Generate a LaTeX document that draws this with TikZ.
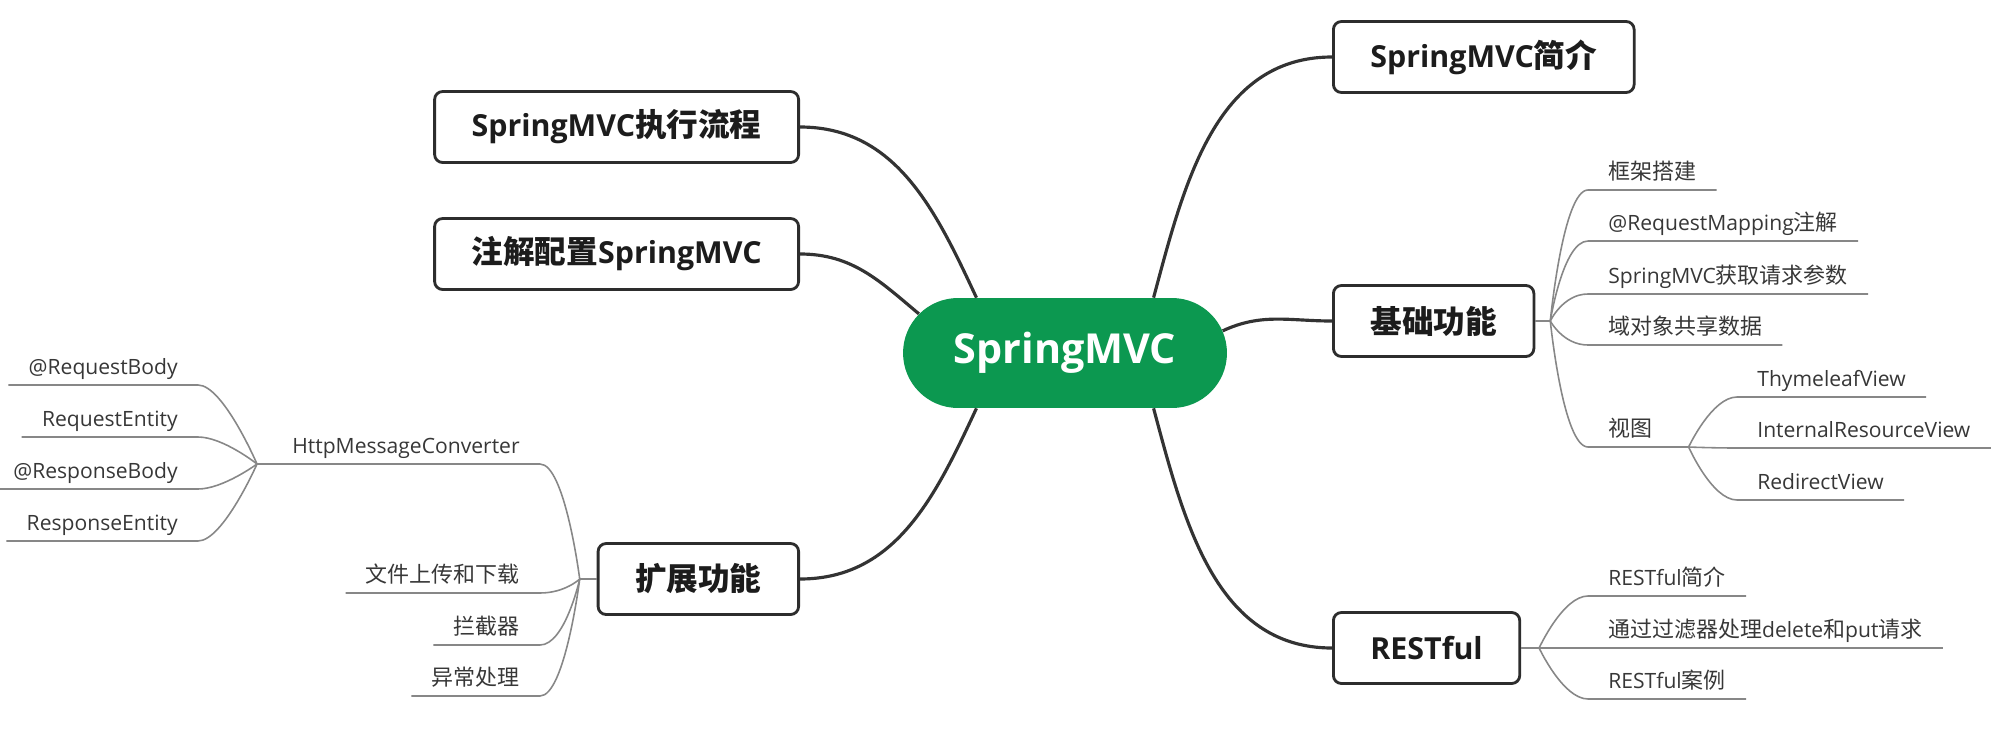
\documentclass[tikz,border=0pt]{standalone}
\usepackage{fontspec}
\setmainfont{Open Sans}[Scale=0.96]
\newfontfamily\cjk{Noto Sans CJK SC}
\usetikzlibrary{positioning,shapes.misc}

\definecolor{mvcgreen}{RGB}{12,152,80}
\definecolor{limbgray}{RGB}{51,51,51}
\definecolor{boxgray}{RGB}{45,45,45}
\definecolor{twiggray}{RGB}{135,135,135}
\definecolor{textdark}{RGB}{28,28,28}
\definecolor{leaftext}{RGB}{55,55,55}

\begin{document}
\begin{tikzpicture}[
  x=0.02cm, y=0.02cm,
  hub/.style={rounded rectangle, fill=mvcgreen, text=white, inner xsep=0pt, minimum width=6.48cm, minimum height=2.2cm, font=\fontsize{24.5}{28}\selectfont\bfseries},
  topic/.style={draw=boxgray, line width=1.6pt, rounded corners=0.16cm, fill=white, inner xsep=0.74cm, minimum height=1.42cm, text=textdark, font=\fontsize{18}{22}\selectfont\bfseries},
  leaf/.style={inner xsep=0.4cm, inner ysep=0.12cm, text height=0.32cm, text depth=0.08cm, text=leaftext, font=\fontsize{12.5}{15}\selectfont},
  limb/.style={draw=limbgray, line width=1.8pt},
  twig/.style={draw=twiggray, line width=0.9pt},
  sproutR/.style={to path={.. controls (\tikztostart) and ([xshift=-0.5cm]\tikztotarget) .. (\tikztotarget)}},
  sproutL/.style={to path={.. controls (\tikztostart) and ([xshift=0.5cm]\tikztotarget) .. (\tikztotarget)}}
]
\useasboundingbox (0,0) rectangle (2004,-734);

% centre and main topics
\node[hub] (root) at (1065,-353) {SpringMVC};

\node[topic, anchor=east] (flow) at (800,-127) {SpringMVC{\cjk 执行流程}};
\node[topic, anchor=east] (anno) at (800,-254) {{\cjk 注解配置}SpringMVC};
\node[topic, anchor=east] (ext) at (800,-579) {{\cjk 扩展功能}};
\node[topic, anchor=west] (intro) at (1332,-57) {SpringMVC{\cjk 简介}};
\node[topic, anchor=west] (basic) at (1332,-321) {{\cjk 基础功能}};
\node[topic, anchor=west] (rest) at (1332,-648) {RESTful};

\draw[limb] (flow.east) to[out=0, in=115] (root.148);
\draw[limb] (anno.east) to[out=0, in=140] (root.165);
\draw[limb] (ext.east) to[out=0, in=-115] (root.212);
\draw[limb] (root.32) to[out=75, in=180] (intro.west);
\draw[limb] (root.8) to[out=25, in=180] (basic.west);
\draw[limb] (root.328) to[out=-75, in=180] (rest.west);

% basic
\coordinate[right=0.3cm of basic.east] (basicfork);
\node[leaf, anchor=south west] (frame) at (1588,-190) {{\cjk 框架搭建}};
\node[leaf, anchor=south west] (mapping) at (1588,-241) {@RequestMapping{\cjk 注解}};
\node[leaf, anchor=south west] (param) at (1588,-294) {SpringMVC{\cjk 获取请求参数}};
\node[leaf, anchor=south west] (scope) at (1588,-345) {{\cjk 域对象共享数据}};
\node[leaf, anchor=south west] (view) at (1588,-447) {{\cjk 视图}};
\draw[twig] (basic.east) -- (basicfork);
\draw[twig] (basicfork) to[sproutR] (frame.south west) -- (frame.south east);
\draw[twig] (basicfork) to[sproutR] (mapping.south west) -- (mapping.south east);
\draw[twig] (basicfork) to[sproutR] (param.south west) -- (param.south east);
\draw[twig] (basicfork) to[sproutR] (scope.south west) -- (scope.south east);

\coordinate[right=0.32cm of view.south east] (viewfork);
\node[leaf, anchor=south west] (thyme) at (1737,-397) {ThymeleafView};
\node[leaf, anchor=south west] (internal) at (1737,-448) {InternalResourceView};
\node[leaf, anchor=south west] (redirect) at (1737,-500) {RedirectView};
\draw[twig] (basicfork) to[sproutR] (view.south west) -- (viewfork);
\draw[twig] (viewfork) to[sproutR] (thyme.south west) -- (thyme.south east);
\draw[twig] (viewfork) to[sproutR] (internal.south west) -- (internal.south east);
\draw[twig] (viewfork) to[sproutR] (redirect.south west) -- (redirect.south east);

% restful
\coordinate[right=0.36cm of rest.east] (restfork);
\node[leaf, anchor=south west] (restintro) at (1588,-596) {RESTful{\cjk 简介}};
\node[leaf, anchor=south west] (filter) at (1588,-648) {{\cjk 通过过滤器处理}delete{\cjk 和}put{\cjk 请求}};
\node[leaf, anchor=south west] (restcase) at (1588,-699) {RESTful{\cjk 案例}};
\draw[twig] (rest.east) -- (restfork);
\draw[twig] (restfork) to[sproutR] (restintro.south west) -- (restintro.south east);
\draw[twig] (restfork) to[sproutR] (filter.south west) -- (filter.south east);
\draw[twig] (restfork) to[sproutR] (restcase.south west) -- (restcase.south east);

% extension
\coordinate[left=0.34cm of ext.west] (extfork);
\node[leaf, anchor=south east] (conv) at (540,-464) {HttpMessageConverter};
\node[leaf, anchor=south east] (upload) at (540,-593) {{\cjk 文件上传和下载}};
\node[leaf, anchor=south east] (intercept) at (540,-645) {{\cjk 拦截器}};
\node[leaf, anchor=south east] (except) at (540,-696) {{\cjk 异常处理}};
\draw[twig] (ext.west) -- (extfork);
\draw[twig] (extfork) to[sproutL] (upload.south east) -- (upload.south west);
\draw[twig] (extfork) to[sproutL] (intercept.south east) -- (intercept.south west);
\draw[twig] (extfork) to[sproutL] (except.south east) -- (except.south west);

\coordinate[left=0.3cm of conv.south west] (convfork);
\node[leaf, anchor=south east] (reqbody) at (198,-385) {@RequestBody};
\node[leaf, anchor=south east] (reqentity) at (198,-437) {RequestEntity};
\node[leaf, anchor=south east] (respbody) at (198,-489) {@ResponseBody};
\node[leaf, anchor=south east] (respentity) at (198,-541) {ResponseEntity};
\draw[twig] (extfork) to[sproutL] (conv.south east) -- (convfork);
\draw[twig] (convfork) to[sproutL] (reqbody.south east) -- (reqbody.south west);
\draw[twig] (convfork) to[sproutL] (reqentity.south east) -- (reqentity.south west);
\draw[twig] (convfork) to[sproutL] (respbody.south east) -- (respbody.south west);
\draw[twig] (convfork) to[sproutL] (respentity.south east) -- (respentity.south west);

\end{tikzpicture}
\end{document}
